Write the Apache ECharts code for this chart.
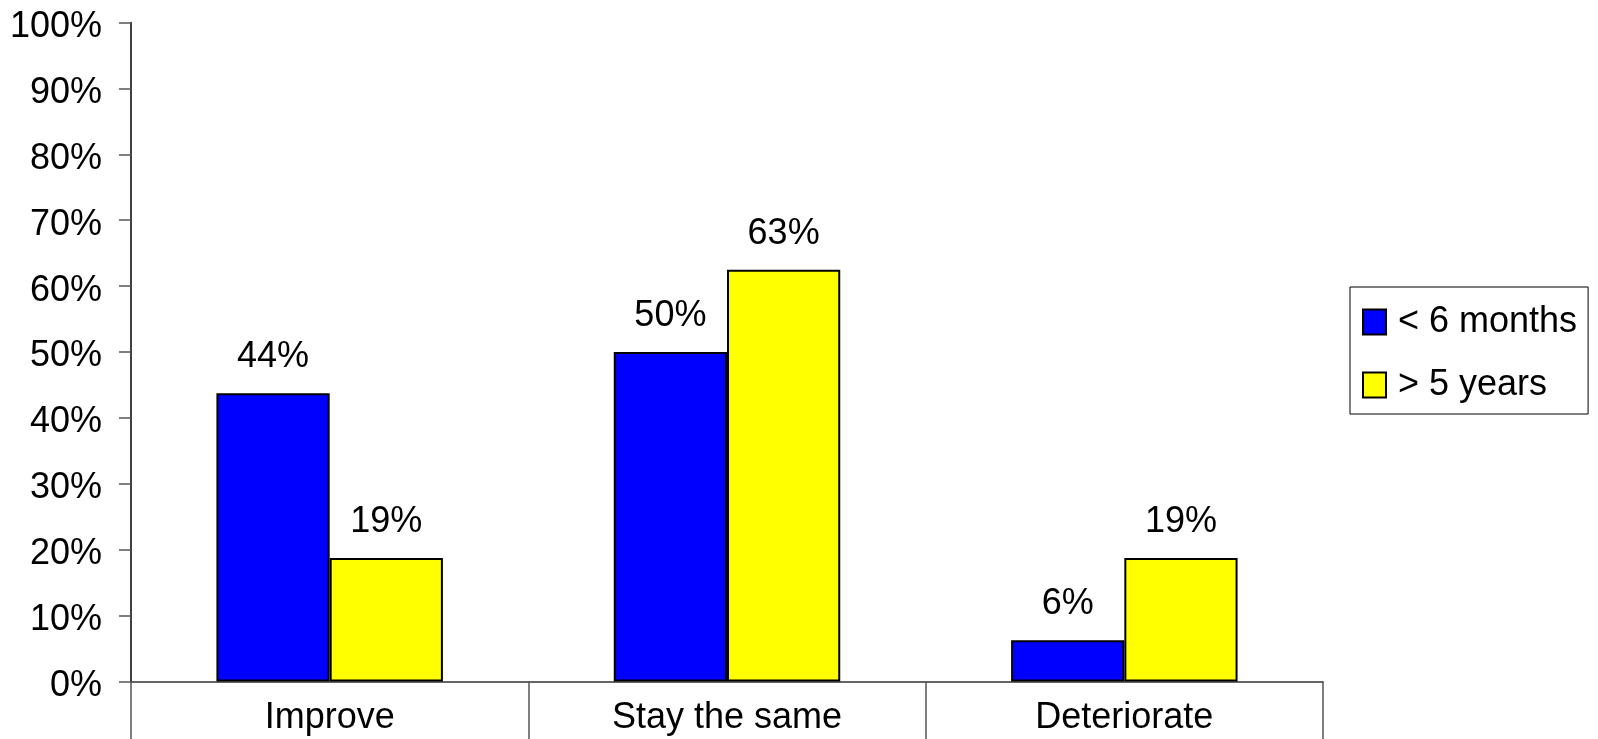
<!DOCTYPE html>
<html>
<head>
<meta charset="utf-8">
<script src="https://cdn.jsdelivr.net/npm/echarts@6/dist/echarts.min.js"></script>
<style>
html,body{margin:0;padding:0;background:#fff;}
#chart{width:1598px;height:739px;}
</style>
</head>
<body>
<div id="chart"></div>
<script>
var categories = ['Improve', 'Stay the same', 'Deteriorate'];
var seriesNames = ['< 6 months', '> 5 years'];
var shortTerm = [43.75, 50, 6.25];
var longTerm = [18.75, 62.5, 18.75];
var yTicks = [0, 10, 20, 30, 40, 50, 60, 70, 80, 90, 100];

var FONT = '"Liberation Sans", Arial, Helvetica, sans-serif';
var FS = 36;
var chart = echarts.init(document.getElementById('chart'), null, {renderer: 'canvas'});
var labelCfg = {
  show: true,
  position: 'top',
  distance: 18,
  color: '#000',
  fontFamily: FONT,
  fontSize: FS,
  formatter: function (p) { return Math.round(p.value) + '%'; }
};
chart.setOption({
  animation: false,
  backgroundColor: '#fff',
  grid: {left: 131, right: 275, top: 22.5, bottom: 57.5, containLabel: false, outerBoundsMode: 'none'},
  legend: {
    orient: 'vertical',
    left: 1350,
    top: 287,
    padding: [17, 11, 11, 12],
    icon: 'rect',
    itemWidth: 23,
    itemHeight: 25,
    itemGap: 27,
    borderColor: '#000',
    borderWidth: 1,
    backgroundColor: '#fff',
    textStyle: {fontFamily: FONT, fontSize: FS, color: '#000', lineHeight: 36, padding: [0, 0, 0, 7]},
    data: seriesNames
  },
  xAxis: {
    type: 'category',
    data: categories,
    axisLine: {show: true, lineStyle: {color: '#333', width: 1.5}},
    axisTick: {show: true, length: 60, lineStyle: {color: '#555', width: 1.5}, alignWithLabel: false},
    axisLabel: {fontFamily: FONT, fontSize: FS, color: '#000', margin: 19, interval: 0}
  },
  yAxis: {
    type: 'value',
    min: 0,
    max: 100,
    interval: 10,
    splitLine: {show: false},
    axisLine: {show: true, lineStyle: {color: '#000', width: 1.5}},
    axisTick: {show: true, length: 12, inside: false, lineStyle: {color: '#555', width: 1.5}},
    axisLabel: {
      fontFamily: FONT, fontSize: FS, color: '#000', margin: 29,
      formatter: function (v) { return yTicks.indexOf(v) >= 0 ? '{v|' + v + '%}' : ''; },
      rich: {
        v: {fontFamily: FONT, fontSize: FS, color: '#000', lineHeight: 36, padding: [9, 0, 0, 0]}
      }
    }
  },
  series: [
    {
      name: seriesNames[0], type: 'bar', data: shortTerm,
      barCategoryGap: '43%', barGap: '0%',
      itemStyle: {color: '#0000FF', borderColor: '#000', borderWidth: 2},
      label: labelCfg
    },
    {
      name: seriesNames[1], type: 'bar', data: longTerm,
      barCategoryGap: '43%', barGap: '0%',
      itemStyle: {color: '#FFFF00', borderColor: '#000', borderWidth: 2},
      label: labelCfg
    }
  ]
});
</script>
</body>
</html>
